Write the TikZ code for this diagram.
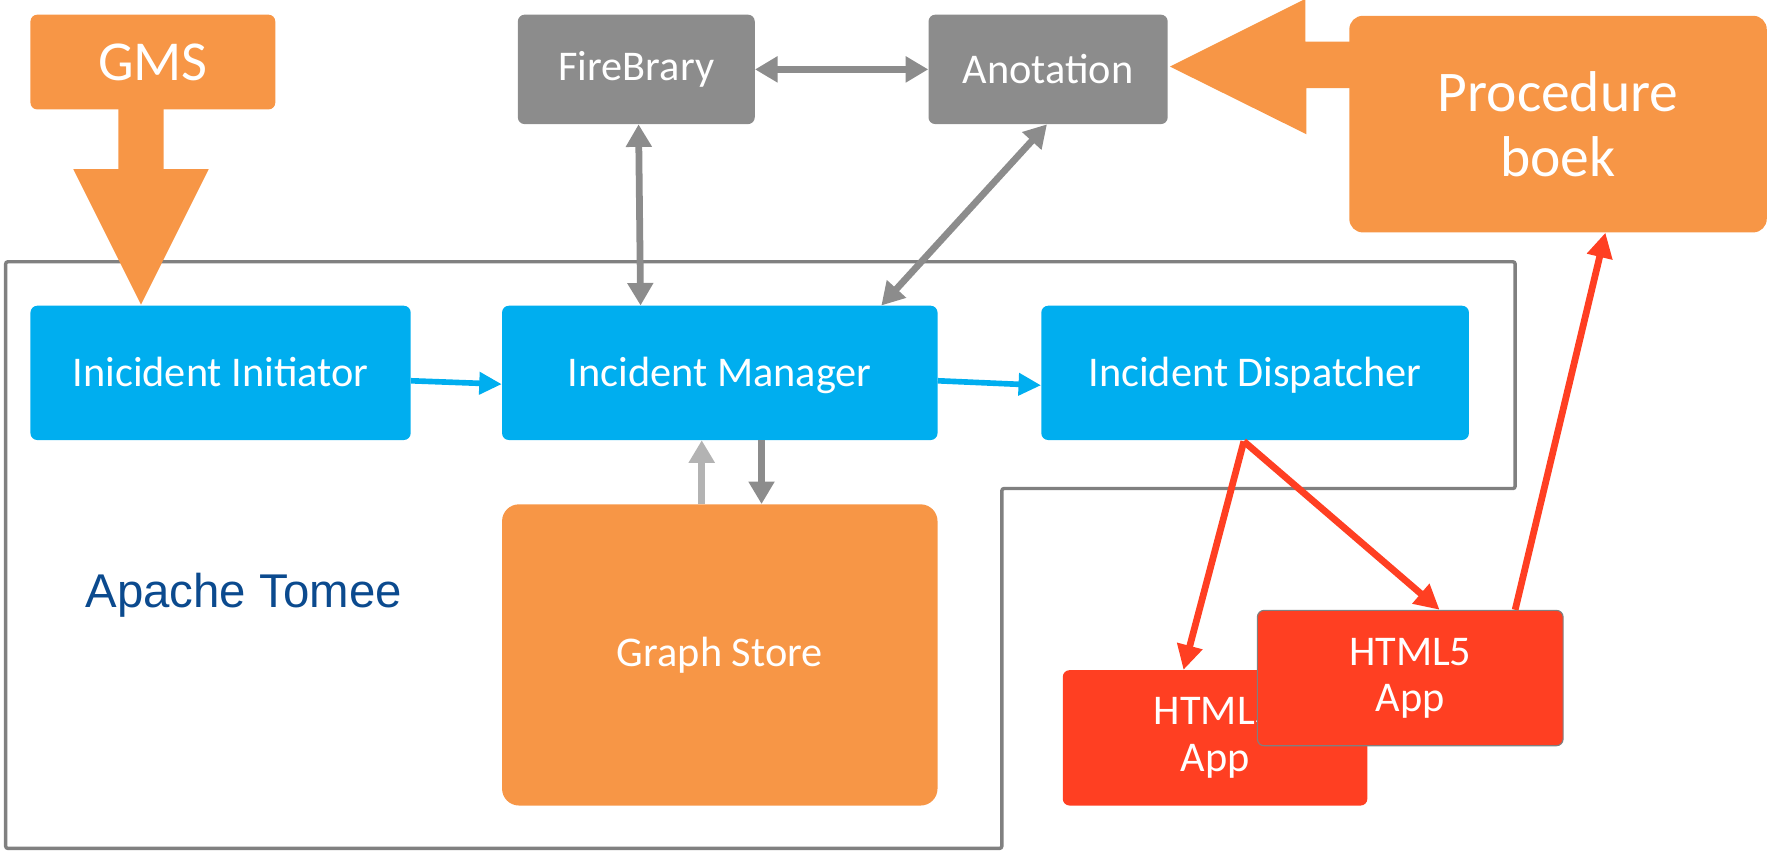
\documentclass[tikz,border=0pt]{standalone}
\usepackage{fontspec}
\setmainfont{Carlito}
\newfontfamily\arialf{Liberation Sans}
\usetikzlibrary{arrows.meta,calc}
\definecolor{cblue}{HTML}{00AEEF}
\definecolor{corange}{HTML}{F79646}
\definecolor{cgray}{HTML}{8C8C8C}
\definecolor{cltgray}{HTML}{B3B3B3}
\definecolor{cred}{HTML}{FF3F22}
\definecolor{cborder}{HTML}{808080}
\definecolor{ctomee}{HTML}{0B4A8E}
\begin{document}
\begin{tikzpicture}[x=1pt,y=-1pt,
  box/.style={rounded corners=6pt, inner sep=0pt, text=white, align=center,
    font=\fontsize{37.5}{41}\selectfont},
  bluebox/.style={box, fill=cblue, minimum height=119pt, text height=26pt, text depth=1pt},
  graybox/.style={box, fill=cgray, minimum height=97pt},
  redbox/.style={box, fill=cred, minimum width=271pt, minimum height=120pt},
  garrow/.style={draw=cgray, line width=6pt,
    {Triangle[length=20pt,width=22pt]}-{Triangle[length=20pt,width=22pt]}},
  sgarrow/.style={line width=6pt, -{Triangle[length=20pt,width=22pt]}},
  barrow/.style={draw=cblue, line width=5pt, -{Triangle[length=20pt,width=19pt]}},
  rarrow/.style={draw=cred, line width=6pt, -{Triangle[length=22pt,width=22pt]}}
]
\useasboundingbox (0,0) rectangle (1568,756);

% Apache Tomee boundary
\draw[cborder, line width=3pt, rounded corners=2pt]
  (5,232) -- (1343,232) -- (1343,433) -- (888,433) -- (888,752) -- (5,752) -- cycle;
\node[text=ctomee, font=\arialf\fontsize{42}{46}\selectfont] (tomee) at (216,528) {Apache Tomee};

% GMS and its big arrow
\node[box, fill=corange, minimum width=217pt, minimum height=84pt,
  font=\fontsize{50}{56}\selectfont] (gms) at (135.5,55) {GMS};
\fill[corange] (105,96) -- (145,96) -- (145,150) -- (185,150) -- (125,270)
  -- (65,150) -- (105,150) -- cycle;

% top gray boxes
\node[graybox, minimum width=210pt] (fire) at (564,61.5) {FireBrary};
\node[graybox, minimum width=212pt] (anot) at (929,61.5) {Anotation};

% Procedure boek and its arrow
\node[box, fill=corange, rounded corners=12pt, minimum width=370pt, minimum height=192pt,
  font=\fontsize{51}{58}\selectfont] (proc) at (1381,110) {Procedure\\boek};
\fill[corange] (1197,37) -- (1157,37) -- (1157,-1) -- (1037,59) -- (1158,119)
  -- (1158,78) -- (1197,78) -- cycle;

% blue boxes
\node[bluebox, minimum width=337pt] (init) at (195.5,330.5) {Inicident Initiator};
\node[bluebox, minimum width=386pt] (mgr) at (638,330.5) {Incident Manager};
\node[bluebox, minimum width=379pt] (disp) at (1112.5,330.5) {Incident Dispatcher};

% graph store
\node[box, fill=corange, rounded corners=15pt, minimum width=386pt, minimum height=267pt]
  (gs) at (638,580.5) {\raisebox{-2pt}{Graph Store}};

% HTML5 apps
\node[redbox, minimum width=270pt] (app1) at (1077,654) {HTML5\\App};
\node[redbox, draw=cborder, line width=1pt] (app2) at (1250,601) {HTML5\\App};

% connectors
\draw[barrow] ($(init.east)+(0,7)$) -- ($(mgr.west)+(0,10)$);
\draw[barrow] ($(mgr.east)+(0,7)$) -- ($(disp.west)+(0,11)$);

\draw[garrow] (fire.east) -- (anot.west);
\draw[garrow] ($(fire.south)+(2,0)$) -- ($(mgr.north west)+(123,0)$);
\draw[garrow] ($(anot.south)+(-1,0)$) -- ($(mgr.north east)+(-50,0)$);

\draw[sgarrow, draw=cgray] ($(mgr.south)+(37,0)$) -- ($(gs.north)+(37,0)$);
\draw[sgarrow, draw=cltgray] ($(gs.north)+(-16,0)$) -- ($(mgr.south)+(-16,0)$);

\coordinate (dsp) at ($(disp.south)+(-10,1)$);
\draw[rarrow] (dsp) -- ($(app1.north)+(-28,0)$);
\draw[rarrow] (dsp) -- ($(app2.north)+(26,0)$);
\draw[rarrow] ($(app2.north)+(93,0)$) -- ($(proc.south)+(42,0)$);
\end{tikzpicture}
\end{document}
